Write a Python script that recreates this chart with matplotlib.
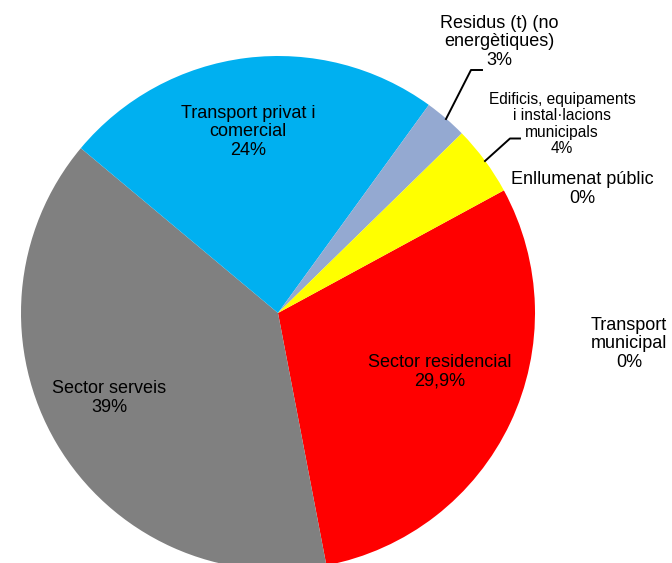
import matplotlib.pyplot as plt

plt.rcParams['font.family'] = ['Liberation Sans', 'DejaVu Sans']

# sectors, clockwise from the red slice
sectors = ["Sector residencial", "Sector serveis", "Transport privat i\ncomercial",
           "Residus (t) (no\nenergètiques)", "Edificis, equipaments\ni instal·lacions\nmunicipals",
           "Enllumenat públic", "Transport\nmunicipal"]
shares = [29.9, 39.1, 23.9, 2.7, 4.4, 0.0, 0.0]
pct_labels = ["29,9%", "39%", "24%", "3%", "4%", "0%", "0%"]
colors = ["#FF0000", "#808080", "#00B0F0", "#94A9D1", "#FFFF00", "#C00000", "#4472C4"]

W, H = 672, 563
fig = plt.figure(figsize=(W / 100, H / 100), dpi=100)
ax = fig.add_axes([0, 0, 1, 1])

cx, cy, r = 278, H - 313, 257
ax.pie(shares, colors=colors, startangle=28.5, counterclock=False,
       center=(cx, cy), radius=r, frame=True,
       wedgeprops=dict(linewidth=0))
ax.set_xlim(0, W)
ax.set_ylim(0, H)
ax.set_aspect('equal')
ax.axis('off')

# label placement (pixel coords from top-left)
label_pos = [(440, 372), (109, 398), (248, 132), (499, 42), (562, 124), (582, 189), (629, 344)]
label_size = [13, 13, 13, 13, 11.2, 13, 13]
for name, pct, (px, py), fs in zip(sectors, pct_labels, label_pos, label_size):
    ax.text(px, H - py, name + "\n" + pct, ha='center', va='center',
            fontsize=fs, linespacing=1.12, color='black')

# leader lines
ax.plot([446, 471, 482], [H - 119, H - 70, H - 70], color='black', lw=1.4)
ax.plot([485, 510, 520], [H - 161, H - 138.5, H - 138.5], color='black', lw=1.4)

fig.savefig('out.png', dpi=100)
